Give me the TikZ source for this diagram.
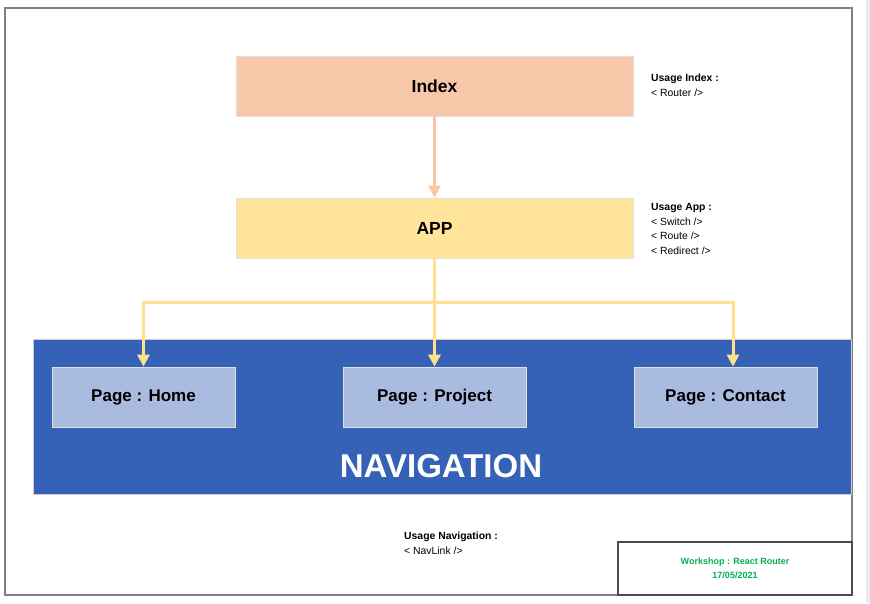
\documentclass[tikz,border=0pt]{standalone}
\usepackage{fontspec}
\setmainfont{Liberation Sans}
\usetikzlibrary{arrows.meta}

\definecolor{peach}{HTML}{F8C6A8}
\definecolor{gold}{HTML}{FFE499}
\definecolor{goldline}{HTML}{FFE08E}
\definecolor{navblue}{HTML}{3562B7}
\definecolor{pageblue}{HTML}{AABBE0}
\definecolor{wsgreen}{HTML}{00B050}

\tikzset{
  compbox/.style={rectangle, draw=black!12, line width=0.8pt, minimum width=397pt, minimum height=60pt, font=\fontsize{17.5}{20}\selectfont\bfseries},
  pagebox/.style={rectangle, fill=pageblue, draw=black!12, line width=0.8pt, minimum width=183pt, minimum height=60pt, font=\fontsize{17}{20}\selectfont\bfseries},
  usage/.style={anchor=north west, align=left, inner sep=0pt, font=\fontsize{10.4}{14.7}\selectfont},
  link/.style={line width=3pt, -{Triangle[width=12pt,length=12pt]}}
}

\begin{document}
\begin{tikzpicture}[x=1pt,y=-1pt]
	\useasboundingbox (0,0) rectangle (870,603);
	% frame
	\fill[black!8] (866,0) rectangle (870,603);
	\draw[gray, line width=2pt] (5,8) rectangle (852,595);

	\node[compbox, fill=peach] (Index) at (434.5,86) {Index};
	\node[compbox, fill=gold] (App) at (434.5,228) {APP};

	\node[rectangle, fill=navblue, draw=black!20, line width=0.8pt, minimum width=818pt, minimum height=155pt] (Nav) at (442,416.5) {};
	\node[pagebox] (Home) at (143.5,397) {Page : Home};
	\node[pagebox] (Project) at (434.5,397) {Page : Project};
	\node[pagebox] (Contact) at (725.5,397) {Page : Contact};
	\node[text=white, font=\fontsize{33}{38}\selectfont\bfseries] (NavTitle) at (441,466) {NAVIGATION};

	\draw[link, peach] (Index) -- (App);
	\coordinate (split) at (434.5,302);
	\draw[link, goldline] (App) -- (Project);
	\draw[link, goldline] (split) -| (Home.north);
	\draw[link, goldline] (split) -| ([xshift=7.5pt]Contact.north);

	\node[usage] (UIndex) at (651,74) {\textbf{Usage Index :}\\< Router />};
	\node[usage] (UApp) at (651,203) {\textbf{Usage App :}\\< Switch />\\< Route />\\< Redirect />};
	\node[usage] (UNav) at (404,532) {\textbf{Usage Navigation :}\\< NavLink />};

	\draw[black!70, line width=1.5pt] (618,542) rectangle (852,595);
	\node[align=center, text=wsgreen, font=\fontsize{9}{14}\selectfont\bfseries] (Workshop) at (735,568) {Workshop : React Router\\17/05/2021};
\end{tikzpicture}
\end{document}
